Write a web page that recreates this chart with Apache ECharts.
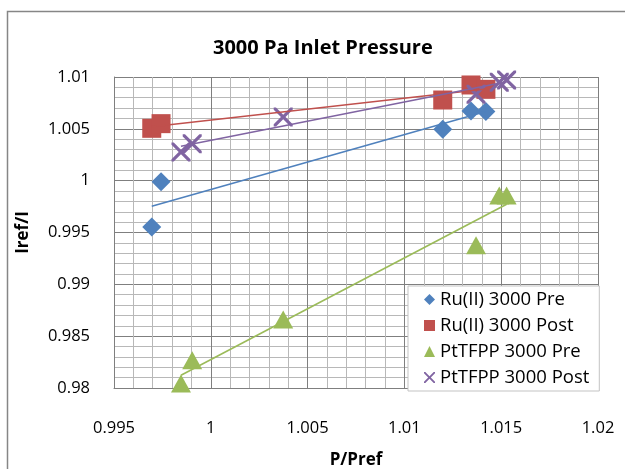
<!DOCTYPE html>
<html>
<head>
<meta charset="utf-8">
<script src="https://cdn.jsdelivr.net/npm/echarts@6/dist/echarts.min.js"></script>
<style>
html,body{margin:0;padding:0;background:#fff;}
#main{width:625px;height:469px;}
</style>
</head>
<body>
<div id="main"></div>
<script>
// Ru(II) samples (same P/Pref for pre and post)
var ruX = [0.99695, 0.99743, 1.01198, 1.01344, 1.01421];
var ruPre = [0.99552, 0.9999, 1.00495, 1.00672, 1.00666];
var ruPost = [1.00505, 1.0055, 1.00778, 1.00923, 1.00881];
// PtTFPP samples
var ptX = [0.99846, 0.99904, 1.00374, 1.0137, 1.0149, 1.01528];
var ptPre = [0.98043, 0.98268, 0.98661, 0.99378, 0.99858, 0.99858];
var ptPost = [1.00276, 1.00357, 1.00614, 1.00833, 1.0095, 1.00972];

var names = ['Ru(II) 3000 Pre', 'Ru(II) 3000 Post', 'PtTFPP 3000 Pre', 'PtTFPP 3000 Post'];
var colors = ['#4F81BD', '#C0504D', '#9BBB59', '#8064A2'];
var FONT = 'Open Sans';
var xMark = 'path://M0,0 L2.4,0 L10,7.6 L17.6,0 L20,0 L20,2.4 L12.4,10 L20,17.6 L20,20 L17.6,20 L10,12.4 L2.4,20 L0,20 L0,17.6 L7.6,10 L0,2.4 Z';

function pairs(xs, ys) {
    var out = [];
    for (var i = 0; i < xs.length; i++) out.push([xs[i], ys[i]]);
    return out;
}
// linear trendline (least squares), drawn from min x to max x like Excel
function trend(xs, ys) {
    var n = xs.length, mx = 0, my = 0;
    for (var i = 0; i < n; i++) { mx += xs[i]; my += ys[i]; }
    mx /= n; my /= n;
    var sxy = 0, sxx = 0;
    for (var j = 0; j < n; j++) {
        sxy += (xs[j] - mx) * (ys[j] - my);
        sxx += (xs[j] - mx) * (xs[j] - mx);
    }
    var b = sxy / sxx, a = my - b * mx;
    var x0 = Math.min.apply(null, xs), x1 = Math.max.apply(null, xs);
    return [[x0, a + b * x0], [x1, a + b * x1]];
}
function fmt(v) { return String(parseFloat(v.toFixed(3))); }

var sets = [[ruX, ruPre], [ruX, ruPost], [ptX, ptPre], [ptX, ptPost]];
var symbols = ['diamond', 'rect', 'triangle', xMark];
var sizes = [[19, 19], [19, 19], [20, 18], [19, 19]];

var series = [];
for (var k = 0; k < 4; k++) {
    series.push({
        name: names[k],
        type: 'scatter',
        data: pairs(sets[k][0], sets[k][1]),
        symbol: symbols[k],
        symbolSize: sizes[k],
        itemStyle: {color: colors[k], opacity: 1},
        z: 2
    });
}
for (var t = 0; t < 4; t++) {
    series.push({
        type: 'line',
        data: trend(sets[t][0], sets[t][1]),
        showSymbol: false,
        symbol: 'none',
        silent: true,
        lineStyle: {color: colors[t], width: 1.6},
        z: 3
    });
}

var axisBase = {
    type: 'value',
    interval: 0.005,
    axisLine: {show: true, onZero: false, lineStyle: {color: '#7f7f7f', width: 1}},
    axisTick: {show: false},
    axisLabel: {color: '#000', fontFamily: FONT, fontSize: 16.5, formatter: fmt},
    splitLine: {show: true, lineStyle: {color: '#7f7f7f', width: 1}},
    minorTick: {show: false, splitNumber: 5},
    minorSplitLine: {show: true, lineStyle: {color: '#b8b8b8', width: 1}},
    nameLocation: 'middle',
    nameTextStyle: {color: '#000', fontFamily: FONT, fontSize: 17, fontWeight: 'bold'}
};

var myChart = echarts.init(document.getElementById('main'), null, {renderer: 'canvas'});
var option = {
    animation: false,
    backgroundColor: '#fff',
    title: {
        text: '3000 Pa Inlet Pressure',
        left: 208,
        top: 33,
        textStyle: {color: '#000', fontFamily: FONT, fontSize: 20, fontWeight: 'bold'}
    },
    graphic: [{
        type: 'rect',
        shape: {x: 7.5, y: 11.5, width: 700, height: 600},
        style: {fill: null, stroke: '#868686', lineWidth: 1.5},
        silent: true
    }],
    grid: {left: 114, top: 77, right: 27, bottom: 81, outerBoundsMode: 'none', containLabel: false},
    xAxis: echarts.util.merge({
        min: 0.995, max: 1.02,
        name: 'P/Pref', nameGap: 64,
        axisLabel: {margin: 32}
    }, axisBase),
    yAxis: echarts.util.merge({
        min: 0.98, max: 1.01,
        name: 'Iref/I', nameGap: 82,
        axisLabel: {margin: 24}
    }, axisBase),
    legend: {
        data: names,
        orient: 'vertical',
        left: 408, top: 286,
        padding: [4, 10, 4, 16],
        itemGap: 7,
        itemWidth: 11, itemHeight: 11,
        backgroundColor: '#fff',
        borderColor: '#c3c3c3', borderWidth: 1,
        textStyle: {color: '#000', fontFamily: FONT, fontSize: 18.5}
    },
    series: series
};
myChart.setOption(option);
</script>
</body>
</html>
